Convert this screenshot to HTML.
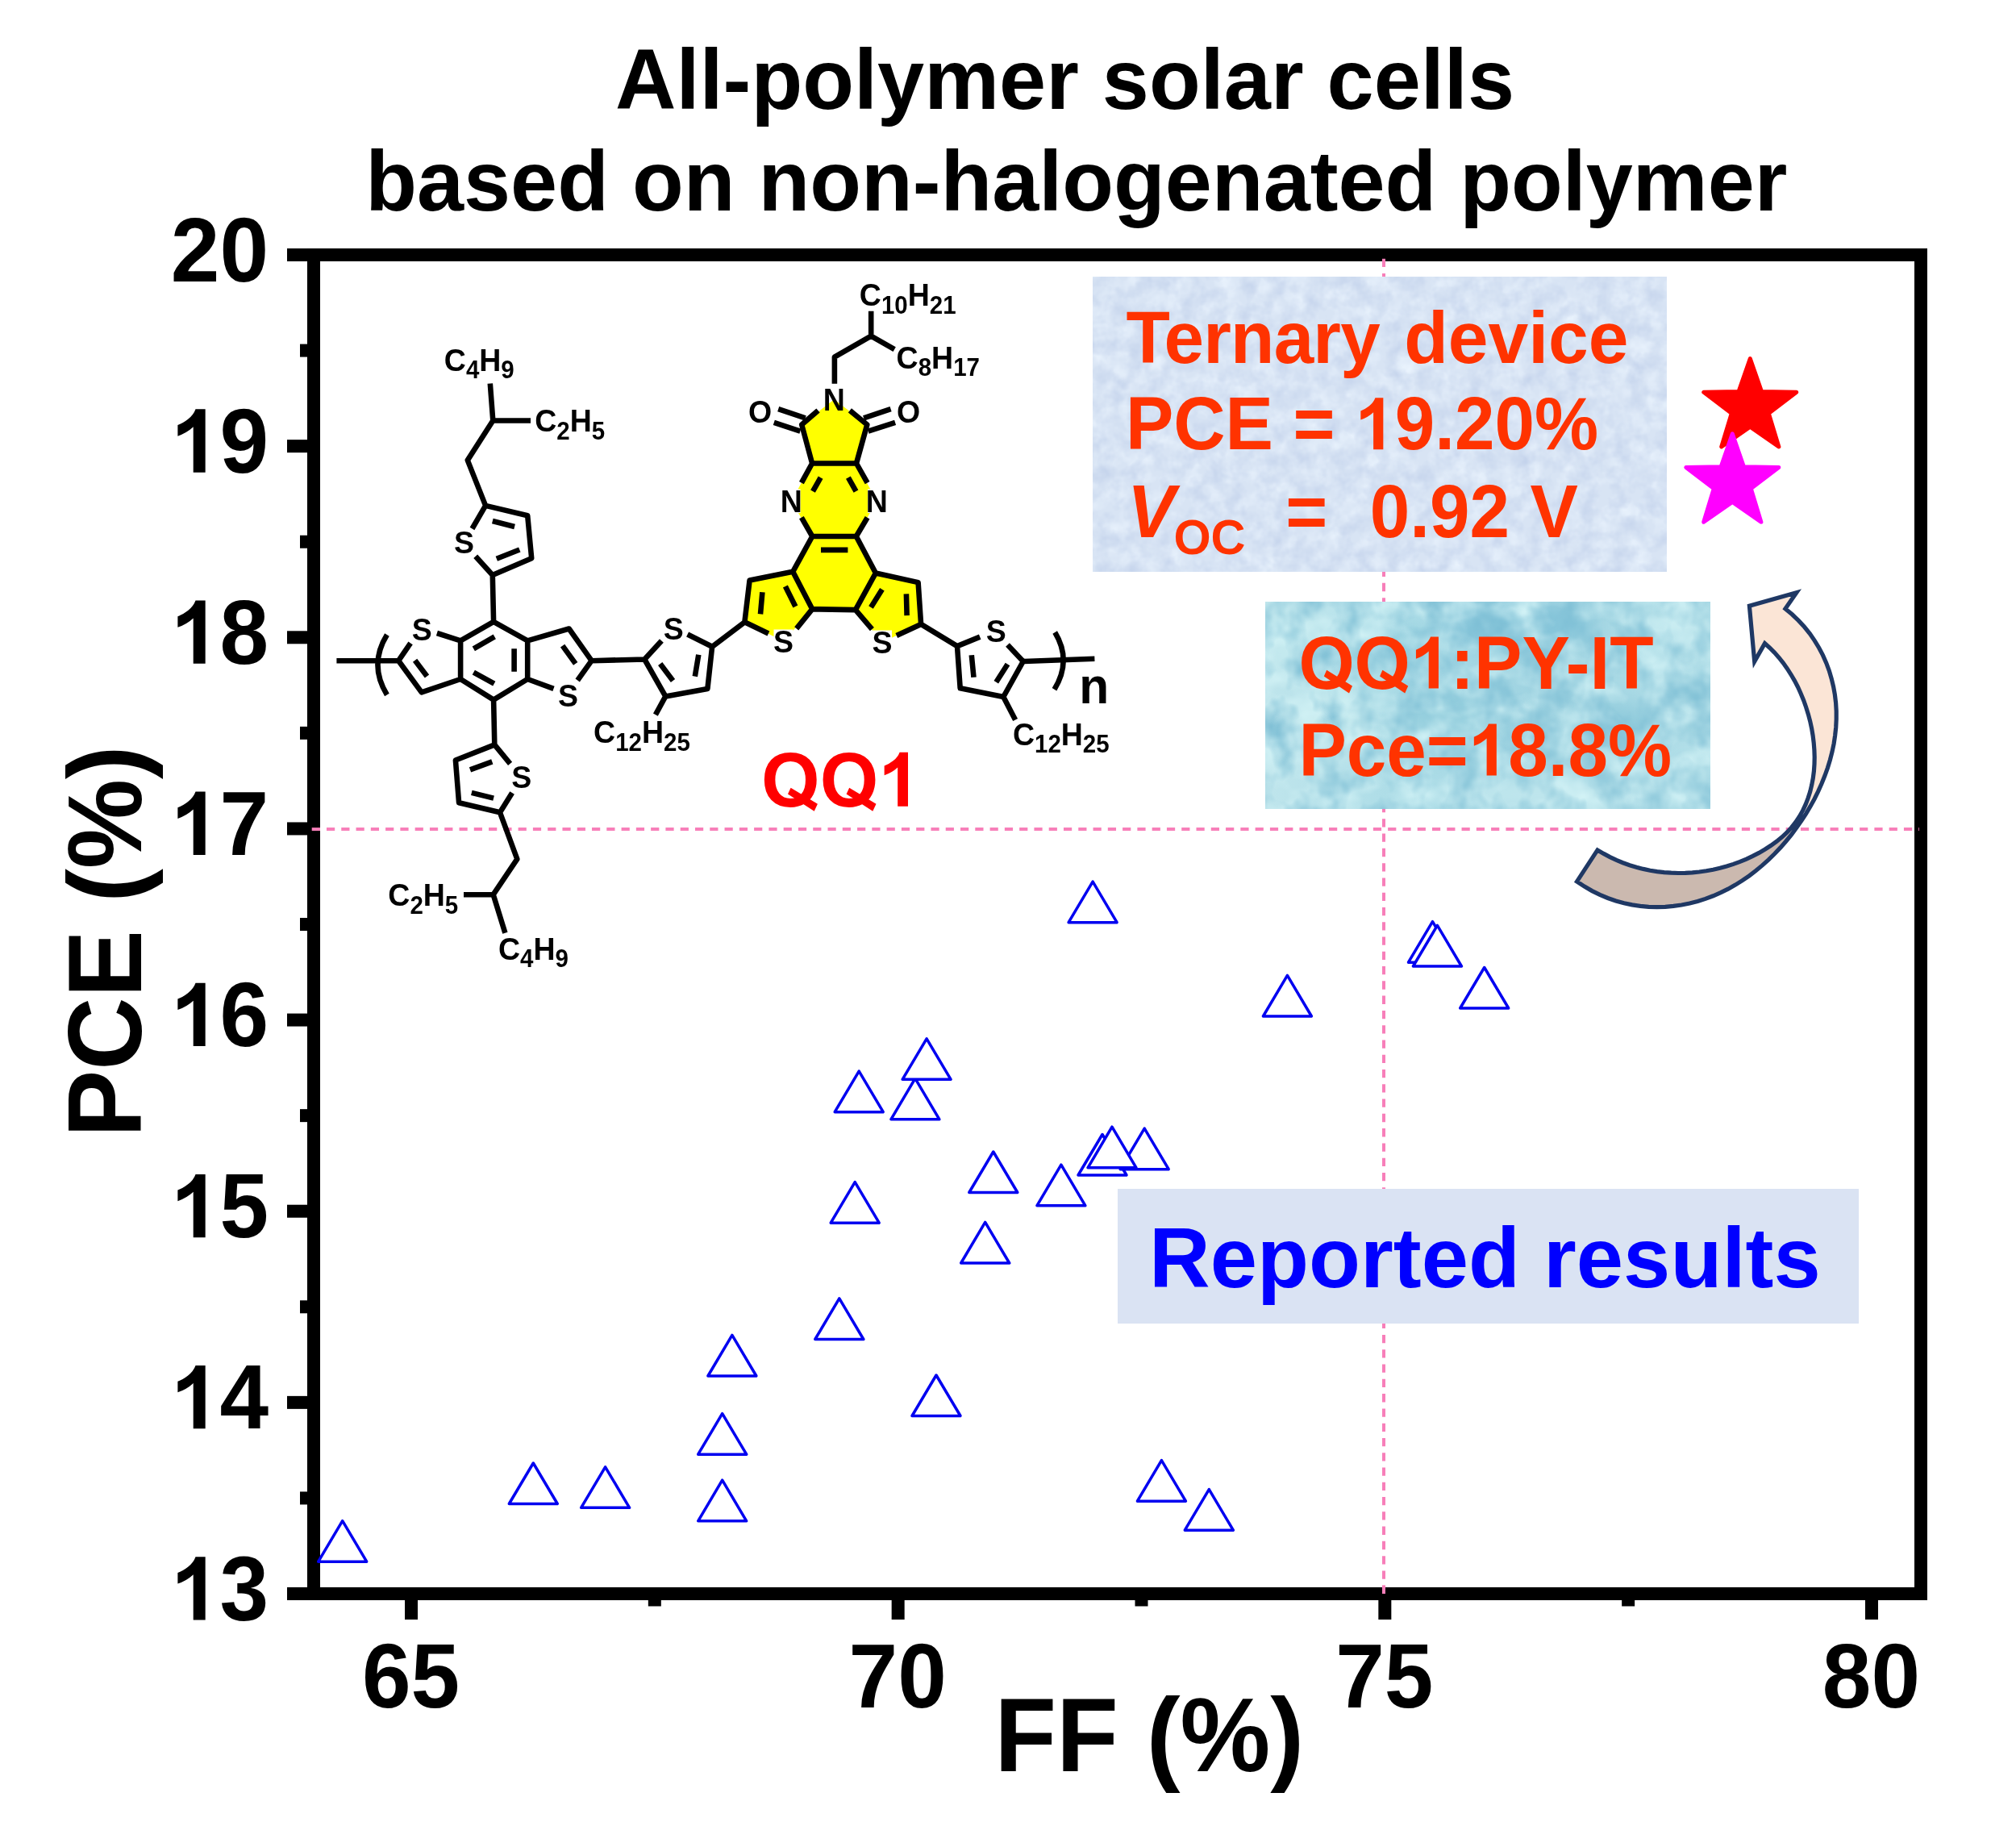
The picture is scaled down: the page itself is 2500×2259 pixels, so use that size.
<!DOCTYPE html>
<html><head><meta charset="utf-8"><title>All-polymer solar cells</title>
<style>
html,body{margin:0;padding:0;background:#fff;}
body{width:2500px;height:2259px;overflow:hidden;}
svg{display:block;font-family:"Liberation Sans", sans-serif;}
</style></head><body>
<svg width="2500" height="2259" viewBox="0 0 2500 2259" font-family='"Liberation Sans", sans-serif'>
<rect x="0" y="0" width="2500" height="2259" fill="#fff"/>
<line x1="386.7" y1="1028.1" x2="2380" y2="1028.1" stroke="#f77fb9" stroke-width="4" stroke-dasharray="10.2 8.08"/>
<line x1="1716" y1="1976" x2="1716" y2="316" stroke="#f77fb9" stroke-width="4" stroke-dasharray="10.3 7.977"/>
<defs>
<filter id="tex1" x="0" y="0" width="100%" height="100%" color-interpolation-filters="sRGB">
  <feTurbulence type="fractalNoise" baseFrequency="0.045" numOctaves="3" seed="4" result="n"/>
  <feColorMatrix in="n" type="matrix" values="0 0 0 0 0.93  0 0 0 0 0.965  0 0 0 0 1  1.5 0 0 0 -0.55" result="lt"/>
  <feTurbulence type="fractalNoise" baseFrequency="0.05" numOctaves="3" seed="19" result="n2"/>
  <feColorMatrix in="n2" type="matrix" values="0 0 0 0 0.76  0 0 0 0 0.82  0 0 0 0 0.92  0 1.5 0 0 -0.55" result="dk"/>
  <feMerge result="m"><feMergeNode in="SourceGraphic"/><feMergeNode in="lt"/><feMergeNode in="dk"/></feMerge>
  <feComposite in="m" in2="SourceGraphic" operator="in"/>
</filter>
<filter id="tex2" x="0" y="0" width="100%" height="100%" color-interpolation-filters="sRGB">
  <feTurbulence type="fractalNoise" baseFrequency="0.022 0.03" numOctaves="3" seed="7" result="n"/>
  <feColorMatrix in="n" type="matrix" values="0 0 0 0 0.84  0 0 0 0 0.96  0 0 0 0 0.97  1.8 0 0 0 -0.68" result="lt"/>
  <feTurbulence type="fractalNoise" baseFrequency="0.03 0.025" numOctaves="3" seed="23" result="n2"/>
  <feColorMatrix in="n2" type="matrix" values="0 0 0 0 0.48  0 0 0 0 0.74  0 0 0 0 0.83  0 1.8 0 0 -0.70" result="dk"/>
  <feMerge result="m"><feMergeNode in="SourceGraphic"/><feMergeNode in="lt"/><feMergeNode in="dk"/></feMerge>
  <feComposite in="m" in2="SourceGraphic" operator="in"/>
</filter>
<filter id="blur14" x="-20%" y="-20%" width="140%" height="140%"><feGaussianBlur stdDeviation="14"/></filter>
<linearGradient id="g2" x1="0" y1="0" x2="1" y2="0">
  <stop offset="0" stop-color="#bfe5ec"/><stop offset="0.35" stop-color="#aadbe6"/><stop offset="0.62" stop-color="#9fd3e1"/><stop offset="1" stop-color="#b4e0e9"/>
</linearGradient>
<clipPath id="cp2"><rect x="1569" y="746" width="552" height="257"/></clipPath>
</defs>
<rect x="1355" y="343" width="712" height="366" fill="#d8e4f4" filter="url(#tex1)"/>
<g clip-path="url(#cp2)"><g filter="url(#tex2)"><rect x="1569" y="746" width="552" height="257" fill="url(#g2)"/>
<g filter="url(#blur14)">
<ellipse cx="1880" cy="775" rx="95" ry="30" fill="#84c4d9"/>
<ellipse cx="1730" cy="800" rx="40" ry="22" fill="#8ecbdc"/>
<ellipse cx="1800" cy="880" rx="70" ry="30" fill="#93cddd"/>
<ellipse cx="2000" cy="900" rx="60" ry="28" fill="#8fcadb"/>
<ellipse cx="2095" cy="870" rx="22" ry="30" fill="#89c6d8"/>
<ellipse cx="1650" cy="900" rx="40" ry="40" fill="#c9ecf0"/>
<ellipse cx="1600" cy="790" rx="30" ry="40" fill="#c5eaef"/>
<ellipse cx="1900" cy="985" rx="120" ry="18" fill="#c4e9ef"/>
<ellipse cx="2085" cy="770" rx="35" ry="22" fill="#c2e8ee"/>
</g></g></g>
<rect x="1386" y="1474" width="919" height="167" fill="#dae3f3"/>
<text transform="translate(1396.60,450.00) scale(1.0,1.025)" font-size="89" font-weight="bold" font-style="normal" fill="#ff3300" text-anchor="start" letter-spacing="-0.8">Ternary</text>
<text transform="translate(1741.20,450.00) scale(1.0,1.01)" font-size="89.4" font-weight="bold" font-style="normal" fill="#ff3300" text-anchor="start" >device</text>
<text transform="translate(1395.90,557.30) scale(1.0,1.04)" font-size="89" font-weight="bold" font-style="normal" fill="#ff3300" text-anchor="start" >PCE = </text>
<path transform="translate(1680.30,557.30) scale(0.04346,-0.04346)" d="M806 0H525V1059Q371 915 162 846V1101Q272 1137 401 1237.5T578 1472H806Z" fill="#ff3300"/>
<text transform="translate(1729.80,557.30) scale(1.0,1.04)" font-size="89" font-weight="bold" font-style="normal" fill="#ff3300" text-anchor="start" >9.20%</text>
<text transform="translate(1398.00,665.50) scale(1.0,1.04)" font-size="89" font-weight="bold" font-style="italic" fill="#ff3300" text-anchor="start" >V</text>
<text transform="translate(1455.40,686.50) scale(1.0,1.04)" font-size="59.4" font-weight="bold" font-style="normal" fill="#ff3300" text-anchor="start" >OC</text>
<text transform="translate(1594.30,665.50) scale(1.0,1.04)" font-size="89" font-weight="bold" font-style="normal" fill="#ff3300" text-anchor="start" >=</text>
<text transform="translate(1698.70,665.50) scale(1.0,1.04)" font-size="89" font-weight="bold" font-style="normal" fill="#ff3300" text-anchor="start" >0.92</text>
<text transform="translate(1897.60,665.50) scale(1.0,1.04)" font-size="89" font-weight="bold" font-style="normal" fill="#ff3300" text-anchor="start" >V</text>
<text transform="translate(1610.40,853.50) scale(1.0,1.04)" font-size="89" font-weight="bold" font-style="normal" fill="#ff3300" text-anchor="start" >OO</text>
<path transform="translate(1748.90,853.50) scale(0.04346,-0.04346)" d="M806 0H525V1059Q371 915 162 846V1101Q272 1137 401 1237.5T578 1472H806Z" fill="#ff3300"/>
<text transform="translate(1798.40,853.50) scale(1.0,1.04)" font-size="89" font-weight="bold" font-style="normal" fill="#ff3300" text-anchor="start" >:PY-IT</text>
<polygon points="1645.2,830.8 1641.8,838.5 1673.0,859.4 1677.0,850.6" fill="#ff3300"/>
<polygon points="1714.4,830.8 1711.1,838.5 1742.2,859.4 1746.2,850.6" fill="#ff3300"/>
<text transform="translate(1610.50,961.50) scale(1.0,1.04)" font-size="89" font-weight="bold" font-style="normal" fill="#ff3300" text-anchor="start" >Pce=</text>
<path transform="translate(1820.80,961.50) scale(0.04346,-0.04346)" d="M806 0H525V1059Q371 915 162 846V1101Q272 1137 401 1237.5T578 1472H806Z" fill="#ff3300"/>
<text transform="translate(1870.30,961.50) scale(1.0,1.04)" font-size="89" font-weight="bold" font-style="normal" fill="#ff3300" text-anchor="start" >8.8%</text>
<text transform="translate(1425.00,1596.30) scale(1.0,1.015)" font-size="104.8" font-weight="bold" font-style="normal" fill="#0000ff" text-anchor="start" >Reported results</text>
<text transform="translate(763.10,135.00) scale(1.0,1.015)" font-size="104.5" font-weight="bold" font-style="normal" fill="#000" text-anchor="start" >All-polymer solar cells</text>
<text transform="translate(453.20,260.60) scale(1.0,1.015)" font-size="104.4" font-weight="bold" font-style="normal" fill="#000" text-anchor="start" >based on non-halogenated polymer</text>
<rect x="389" y="316" width="1993" height="1660" fill="none" stroke="#000" stroke-width="16"/>
<rect x="386.7" y="1026.1" width="10.3" height="4" fill="#f77fb9"/>
<rect x="1714" y="1965.5" width="4" height="10.5" fill="#f77fb9"/>
<rect x="1714" y="320.8" width="4" height="3.4" fill="#f77fb9"/>
<rect x="2379.2" y="1026.1" width="0.8" height="4" fill="#f77fb9"/>
<rect x="356" y="1968.00" width="26" height="16" fill="#000"/>
<path transform="translate(211.76,2008.50) scale(0.05322,-0.05322)" d="M806 0H525V1059Q371 915 162 846V1101Q272 1137 401 1237.5T578 1472H806Z" fill="#000"/>
<text transform="translate(333.00,2008.50) scale(1.0,1.03)" font-size="109" font-weight="bold" font-style="normal" fill="#000" text-anchor="end" >3</text>
<rect x="356" y="1730.86" width="26" height="16" fill="#000"/>
<path transform="translate(211.76,1771.36) scale(0.05322,-0.05322)" d="M806 0H525V1059Q371 915 162 846V1101Q272 1137 401 1237.5T578 1472H806Z" fill="#000"/>
<text transform="translate(333.00,1771.36) scale(1.0,1.03)" font-size="109" font-weight="bold" font-style="normal" fill="#000" text-anchor="end" >4</text>
<rect x="356" y="1493.72" width="26" height="16" fill="#000"/>
<path transform="translate(211.76,1534.22) scale(0.05322,-0.05322)" d="M806 0H525V1059Q371 915 162 846V1101Q272 1137 401 1237.5T578 1472H806Z" fill="#000"/>
<text transform="translate(333.00,1534.22) scale(1.0,1.03)" font-size="109" font-weight="bold" font-style="normal" fill="#000" text-anchor="end" >5</text>
<rect x="356" y="1256.58" width="26" height="16" fill="#000"/>
<path transform="translate(211.76,1297.08) scale(0.05322,-0.05322)" d="M806 0H525V1059Q371 915 162 846V1101Q272 1137 401 1237.5T578 1472H806Z" fill="#000"/>
<text transform="translate(333.00,1297.08) scale(1.0,1.03)" font-size="109" font-weight="bold" font-style="normal" fill="#000" text-anchor="end" >6</text>
<rect x="356" y="1019.44" width="26" height="16" fill="#000"/>
<path transform="translate(211.76,1059.94) scale(0.05322,-0.05322)" d="M806 0H525V1059Q371 915 162 846V1101Q272 1137 401 1237.5T578 1472H806Z" fill="#000"/>
<text transform="translate(333.00,1059.94) scale(1.0,1.03)" font-size="109" font-weight="bold" font-style="normal" fill="#000" text-anchor="end" >7</text>
<rect x="356" y="782.30" width="26" height="16" fill="#000"/>
<path transform="translate(211.76,822.80) scale(0.05322,-0.05322)" d="M806 0H525V1059Q371 915 162 846V1101Q272 1137 401 1237.5T578 1472H806Z" fill="#000"/>
<text transform="translate(333.00,822.80) scale(1.0,1.03)" font-size="109" font-weight="bold" font-style="normal" fill="#000" text-anchor="end" >8</text>
<rect x="356" y="545.16" width="26" height="16" fill="#000"/>
<path transform="translate(211.76,585.66) scale(0.05322,-0.05322)" d="M806 0H525V1059Q371 915 162 846V1101Q272 1137 401 1237.5T578 1472H806Z" fill="#000"/>
<text transform="translate(333.00,585.66) scale(1.0,1.03)" font-size="109" font-weight="bold" font-style="normal" fill="#000" text-anchor="end" >9</text>
<rect x="356" y="308.02" width="26" height="16" fill="#000"/>
<text transform="translate(333.00,348.52) scale(1.0,1.03)" font-size="109" font-weight="bold" font-style="normal" fill="#000" text-anchor="end" >20</text>
<rect x="372" y="1849.43" width="10" height="16" fill="#000"/>
<rect x="372" y="1612.29" width="10" height="16" fill="#000"/>
<rect x="372" y="1375.15" width="10" height="16" fill="#000"/>
<rect x="372" y="1138.01" width="10" height="16" fill="#000"/>
<rect x="372" y="900.87" width="10" height="16" fill="#000"/>
<rect x="372" y="663.73" width="10" height="16" fill="#000"/>
<rect x="372" y="426.59" width="10" height="16" fill="#000"/>
<rect x="502.00" y="1983" width="16" height="25" fill="#000"/>
<text transform="translate(509.50,2117.00) scale(1.0,1.03)" font-size="109" font-weight="bold" font-style="normal" fill="#000" text-anchor="middle" >65</text>
<rect x="1105.66" y="1983" width="16" height="25" fill="#000"/>
<text transform="translate(1113.16,2117.00) scale(1.0,1.03)" font-size="109" font-weight="bold" font-style="normal" fill="#000" text-anchor="middle" >70</text>
<rect x="1709.33" y="1983" width="16" height="25" fill="#000"/>
<text transform="translate(1716.83,2117.00) scale(1.0,1.03)" font-size="109" font-weight="bold" font-style="normal" fill="#000" text-anchor="middle" >75</text>
<rect x="2312.99" y="1983" width="16" height="25" fill="#000"/>
<text transform="translate(2320.49,2117.00) scale(1.0,1.03)" font-size="109" font-weight="bold" font-style="normal" fill="#000" text-anchor="middle" >80</text>
<rect x="803.83" y="1983" width="16" height="8.5" fill="#000"/>
<rect x="1407.50" y="1983" width="16" height="8.5" fill="#000"/>
<rect x="2011.16" y="1983" width="16" height="8.5" fill="#000"/>
<text transform="translate(1233.20,2195.80) scale(1.0,1.04)" font-size="125.7" font-weight="bold" font-style="normal" fill="#000" text-anchor="start" >FF (%)</text>
<text transform="translate(175,1402.4) rotate(-90) scale(1,1.04)" font-size="124.8" font-weight="bold" fill="#000" dx="-7.5">PCE (%)</text>
<path d="M424.7,1885.7 L454.7,1936.2 L394.7,1936.2 Z" fill="#fff" stroke="#0000f0" stroke-width="3.5" stroke-linejoin="round"/>
<path d="M661.3,1814.0 L691.3,1864.5 L631.3,1864.5 Z" fill="#fff" stroke="#0000f0" stroke-width="3.5" stroke-linejoin="round"/>
<path d="M750.6,1818.8 L780.6,1869.3 L720.6,1869.3 Z" fill="#fff" stroke="#0000f0" stroke-width="3.5" stroke-linejoin="round"/>
<path d="M895.7,1835.2 L925.7,1885.8 L865.7,1885.8 Z" fill="#fff" stroke="#0000f0" stroke-width="3.5" stroke-linejoin="round"/>
<path d="M895.7,1752.7 L925.7,1803.2 L865.7,1803.2 Z" fill="#fff" stroke="#0000f0" stroke-width="3.5" stroke-linejoin="round"/>
<path d="M907.9,1655.4 L937.9,1706.0 L877.9,1706.0 Z" fill="#fff" stroke="#0000f0" stroke-width="3.5" stroke-linejoin="round"/>
<path d="M1040.8,1609.9 L1070.8,1660.5 L1010.8,1660.5 Z" fill="#fff" stroke="#0000f0" stroke-width="3.5" stroke-linejoin="round"/>
<path d="M1161.0,1705.0 L1191.0,1755.5 L1131.0,1755.5 Z" fill="#fff" stroke="#0000f0" stroke-width="3.5" stroke-linejoin="round"/>
<path d="M1060.2,1465.6 L1090.2,1516.2 L1030.2,1516.2 Z" fill="#fff" stroke="#0000f0" stroke-width="3.5" stroke-linejoin="round"/>
<path d="M1065.2,1328.1 L1095.2,1378.7 L1035.2,1378.7 Z" fill="#fff" stroke="#0000f0" stroke-width="3.5" stroke-linejoin="round"/>
<path d="M1134.9,1337.2 L1164.9,1387.8 L1104.9,1387.8 Z" fill="#fff" stroke="#0000f0" stroke-width="3.5" stroke-linejoin="round"/>
<path d="M1149.1,1287.8 L1179.1,1338.3 L1119.1,1338.3 Z" fill="#fff" stroke="#0000f0" stroke-width="3.5" stroke-linejoin="round"/>
<path d="M1221.7,1515.4 L1251.7,1566.0 L1191.7,1566.0 Z" fill="#fff" stroke="#0000f0" stroke-width="3.5" stroke-linejoin="round"/>
<path d="M1231.8,1428.0 L1261.8,1478.5 L1201.8,1478.5 Z" fill="#fff" stroke="#0000f0" stroke-width="3.5" stroke-linejoin="round"/>
<path d="M1315.9,1444.2 L1345.9,1494.8 L1285.9,1494.8 Z" fill="#fff" stroke="#0000f0" stroke-width="3.5" stroke-linejoin="round"/>
<path d="M1367.0,1406.5 L1397.0,1457.0 L1337.0,1457.0 Z" fill="#fff" stroke="#0000f0" stroke-width="3.5" stroke-linejoin="round"/>
<path d="M1419.2,1399.1 L1449.2,1449.7 L1389.2,1449.7 Z" fill="#fff" stroke="#0000f0" stroke-width="3.5" stroke-linejoin="round"/>
<path d="M1379.0,1397.2 L1409.0,1447.8 L1349.0,1447.8 Z" fill="#fff" stroke="#0000f0" stroke-width="3.5" stroke-linejoin="round"/>
<path d="M1355.1,1093.1 L1385.1,1143.7 L1325.1,1143.7 Z" fill="#fff" stroke="#0000f0" stroke-width="3.5" stroke-linejoin="round"/>
<path d="M1440.4,1810.6 L1470.4,1861.2 L1410.4,1861.2 Z" fill="#fff" stroke="#0000f0" stroke-width="3.5" stroke-linejoin="round"/>
<path d="M1499.3,1846.6 L1529.3,1897.2 L1469.3,1897.2 Z" fill="#fff" stroke="#0000f0" stroke-width="3.5" stroke-linejoin="round"/>
<path d="M1596.4,1209.4 L1626.4,1260.0 L1566.4,1260.0 Z" fill="#fff" stroke="#0000f0" stroke-width="3.5" stroke-linejoin="round"/>
<path d="M1776.5,1142.7 L1806.5,1193.2 L1746.5,1193.2 Z" fill="#fff" stroke="#0000f0" stroke-width="3.5" stroke-linejoin="round"/>
<path d="M1782.4,1147.4 L1812.4,1198.0 L1752.4,1198.0 Z" fill="#fff" stroke="#0000f0" stroke-width="3.5" stroke-linejoin="round"/>
<path d="M1840.7,1199.5 L1870.7,1250.0 L1810.7,1250.0 Z" fill="#fff" stroke="#0000f0" stroke-width="3.5" stroke-linejoin="round"/>
<polygon points="2170.3,444.5 2184.5,485.4 2227.8,486.3 2193.3,512.5 2205.9,553.9 2170.3,529.2 2134.7,553.9 2147.3,512.5 2112.8,486.3 2156.1,485.4" fill="#ff0000" stroke="#ff0000" stroke-width="5" stroke-linejoin="round"/>
<polygon points="2148.3,537.8 2162.5,578.7 2205.8,579.6 2171.3,605.8 2183.9,647.2 2148.3,622.5 2112.7,647.2 2125.3,605.8 2090.8,579.6 2134.1,578.7" fill="#ff00ff" stroke="#ff00ff" stroke-width="5" stroke-linejoin="round"/>
<path d="M2239.6,1008.8 L2233.9,1017.6 L2227.8,1026.3 L2221.5,1034.8 L2214.8,1043.0 L2207.9,1050.9 L2200.7,1058.5 L2193.2,1065.9 L2185.4,1072.9 L2177.4,1079.5 L2169.2,1085.8 L2160.7,1091.7 L2152.0,1097.1 L2143.0,1102.2 L2133.9,1106.7 L2124.5,1110.8 L2114.9,1114.4 L2105.2,1117.5 L2095.3,1120.0 L2085.3,1122.0 L2075.2,1123.4 L2065.0,1124.3 L2054.8,1124.6 L2044.5,1124.3 L2034.2,1123.4 L2024.0,1121.9 L2013.9,1119.7 L2003.8,1116.9 L1993.8,1113.5 L1984.0,1109.4 L1974.3,1104.6 L1964.8,1099.1 L1955.5,1092.9 L1981.0,1053.9 L1988.7,1058.4 L1996.5,1062.6 L2004.5,1066.4 L2012.6,1069.7 L2020.9,1072.7 L2029.3,1075.3 L2037.8,1077.4 L2046.3,1079.2 L2055.0,1080.6 L2063.7,1081.6 L2072.4,1082.2 L2081.1,1082.5 L2089.8,1082.4 L2098.6,1081.9 L2107.2,1081.0 L2115.9,1079.8 L2124.4,1078.2 L2132.9,1076.3 L2141.2,1074.0 L2149.5,1071.4 L2157.7,1068.4 L2165.7,1065.1 L2173.5,1061.4 L2181.3,1057.4 L2188.8,1053.0 L2196.1,1048.3 L2203.2,1043.2 L2209.8,1037.8 L2216.1,1032.0 L2221.8,1025.7 L2226.9,1019.2 L2231.5,1012.2 Z" fill="#cbb9af"/>
<path d="M2213.9,754.7 L2222.4,761.8 L2230.3,769.4 L2237.6,777.3 L2244.3,785.6 L2250.3,794.3 L2255.7,803.2 L2260.5,812.4 L2264.7,821.9 L2268.3,831.5 L2271.2,841.4 L2273.6,851.3 L2275.4,861.4 L2276.6,871.5 L2277.2,881.6 L2277.2,891.8 L2276.7,902.0 L2275.6,912.1 L2274.1,922.2 L2272.0,932.2 L2269.4,942.2 L2266.4,952.1 L2262.9,961.8 L2259.0,971.5 L2254.7,981.1 L2250.1,990.5 L2245.0,999.7 L2239.6,1008.8 L2235.6,1004.9 L2239.1,997.4 L2242.1,989.6 L2244.7,981.5 L2246.7,973.2 L2248.3,964.8 L2249.4,956.2 L2250.0,947.5 L2250.2,938.7 L2249.9,929.8 L2249.2,920.9 L2248.1,912.0 L2246.6,903.1 L2244.7,894.3 L2242.4,885.6 L2239.7,877.0 L2236.7,868.5 L2233.3,860.2 L2229.6,852.0 L2225.5,844.1 L2221.1,836.5 L2216.4,829.2 L2211.4,822.1 L2206.1,815.4 L2200.5,809.1 L2194.6,803.2 L2188.5,797.7 L2175.7,820.3 L2169.4,751.2 L2227.8,734.7 Z" fill="#fbe5d6"/>
<path d="M2213.9,754.7 L2222.4,761.8 L2230.3,769.4 L2237.6,777.3 L2244.3,785.6 L2250.3,794.3 L2255.7,803.2 L2260.5,812.4 L2264.7,821.9 L2268.3,831.5 L2271.2,841.4 L2273.6,851.3 L2275.4,861.4 L2276.6,871.5 L2277.2,881.6 L2277.2,891.8 L2276.7,902.0 L2275.6,912.1 L2274.1,922.2 L2272.0,932.2 L2269.4,942.2 L2266.4,952.1 L2262.9,961.8 L2259.0,971.5 L2254.7,981.1 L2250.1,990.5 L2245.0,999.7 L2239.6,1008.8 L2233.9,1017.6 L2227.8,1026.3 L2221.5,1034.8 L2214.8,1043.0 L2207.9,1050.9 L2200.7,1058.5 L2193.2,1065.9 L2185.4,1072.9 L2177.4,1079.5 L2169.2,1085.8 L2160.7,1091.7 L2152.0,1097.1 L2143.0,1102.2 L2133.9,1106.7 L2124.5,1110.8 L2114.9,1114.4 L2105.2,1117.5 L2095.3,1120.0 L2085.3,1122.0 L2075.2,1123.4 L2065.0,1124.3 L2054.8,1124.6 L2044.5,1124.3 L2034.2,1123.4 L2024.0,1121.9 L2013.9,1119.7 L2003.8,1116.9 L1993.8,1113.5 L1984.0,1109.4 L1974.3,1104.6 L1964.8,1099.1 L1955.5,1092.9 L1981.0,1053.9 L1988.7,1058.4 L1996.5,1062.6 L2004.5,1066.4 L2012.6,1069.7 L2020.9,1072.7 L2029.3,1075.3 L2037.8,1077.4 L2046.3,1079.2 L2055.0,1080.6 L2063.7,1081.6 L2072.4,1082.2 L2081.1,1082.5 L2089.8,1082.4 L2098.6,1081.9 L2107.2,1081.0 L2115.9,1079.8 L2124.4,1078.2 L2132.9,1076.3 L2141.2,1074.0 L2149.5,1071.4 L2157.7,1068.4 L2165.7,1065.1 L2173.5,1061.4 L2181.3,1057.4 L2188.8,1053.0 L2196.1,1048.3 L2203.2,1043.2 L2209.8,1037.8 L2216.1,1032.0 L2221.8,1025.7 L2226.9,1019.2 L2231.5,1012.2 L2235.6,1004.9 L2239.1,997.4 L2242.1,989.6 L2244.7,981.5 L2246.7,973.2 L2248.3,964.8 L2249.4,956.2 L2250.0,947.5 L2250.2,938.7 L2249.9,929.8 L2249.2,920.9 L2248.1,912.0 L2246.6,903.1 L2244.7,894.3 L2242.4,885.6 L2239.7,877.0 L2236.7,868.5 L2233.3,860.2 L2229.6,852.0 L2225.5,844.1 L2221.1,836.5 L2216.4,829.2 L2211.4,822.1 L2206.1,815.4 L2200.5,809.1 L2194.6,803.2 L2188.5,797.7 L2175.7,820.3 L2169.4,751.2 L2227.8,734.7 Z" fill="none" stroke="#1f3864" stroke-width="5.2" stroke-linejoin="miter" stroke-miterlimit="6"/>
<polygon points="1034.4,495.2 1075.3,526.5 1062.0,574.5 1007.1,574.5 994.2,526.5" fill="#ffff00"/>
<polygon points="1007.1,574.5 1062.0,574.5 1087.4,621.5 1061.8,665.0 1007.3,665.0 981.3,621.5" fill="#ffff00"/>
<polygon points="1007.3,665.0 1061.8,665.0 1085.9,710.5 1060.9,756.1 1007.3,755.2 983.2,708.8" fill="#ffff00"/>
<polygon points="983.2,708.8 929.6,719.5 923.4,771.3 971.6,795.0 1007.3,755.2" fill="#ffff00"/>
<polygon points="1085.9,710.5 1138.6,722.1 1142.1,773.9 1093.9,796.3 1060.9,756.1" fill="#ffff00"/>
<rect x="968" y="606.5" width="24.6" height="29.5" fill="#fff"/>
<rect x="1076" y="606.5" width="24.6" height="29.5" fill="#fff"/>
<rect x="959.5" y="780.5" width="24" height="30" fill="#fff"/>
<rect x="1082" y="781.5" width="24" height="30" fill="#fff"/>
<path d="M607.8,475.6 L611.3,521.5 L579.8,570.6 L602.1,626.9 L654.2,639.3 L659.2,692.2 L610.8,713.0 L612.1,770.8 M611.3,521.5 L658.0,521.5 M602.1,626.9 L585.5,655.5 M610.8,713.0 L589.7,689.7 M612.1,770.8 L654.2,794.4 L654.2,842.0 L612.1,867.6 L571.1,842.0 L571.1,794.4 Z M654.2,794.4 L705.6,779.5 L733.6,819.2 L716.2,843.5 M654.2,842.0 L686.5,853.9 M571.1,794.4 L541.9,785.0 M509.1,797.4 L494.2,819.2 L522.8,858.4 L571.1,842.0 M417.4,819.2 L494.2,819.2 M733.6,819.2 L799.3,817.5 M820.4,794.4 L799.3,817.5 L825.3,863.4 L877.4,853.9 L883.1,801.8 L852.6,786.5 M825.3,863.4 L812.9,886.2 M883.1,801.8 L923.4,771.3 M952.9,785.5 L923.4,771.3 L929.6,719.5 L983.2,708.8 M1007.3,755.2 L987.7,779.3 M1007.3,665.0 L1061.8,665.0 L1085.9,710.5 L1060.9,756.1 L1007.3,755.2 L983.2,708.8 Z M1085.9,710.5 L1138.6,722.1 L1142.1,773.9 L1111.8,787.9 M1060.9,756.1 L1081.4,780.2 M993.9,598.6 L1007.1,574.5 L1062.0,574.5 L1075.6,598.6 M993.9,641.7 L1007.3,665.0 M1075.6,641.7 L1061.8,665.0 M1007.1,574.5 L994.2,526.5 L1014.5,508.9 M1062.0,574.5 L1075.3,526.5 L1053.9,508.9 M1034.9,475.8 L1034.9,442.6 L1080.2,416.6 L1080.2,385.8 M1080.2,416.6 L1109.2,433.2 M1142.1,773.9 L1187.0,801.1 M1215.2,789.6 L1187.0,801.1 L1190.7,853.2 L1244.3,864.0 L1268.8,820.0 L1249.5,799.6 M1268.8,820.0 L1357.4,816.7 M1244.3,864.0 L1259.1,892.6 M612.1,867.6 L613.3,923.4 L564.9,942.5 L569.1,995.3 L620.0,1007.3 L635.1,982.9 M613.3,923.4 L632.6,946.9 M620.0,1007.3 L641.3,1065.2 L611.7,1109.2 L626.4,1156.8 M611.7,1109.2 L575.0,1109.2 " fill="none" stroke="#000" stroke-width="6.6" stroke-linejoin="round" stroke-linecap="butt"/>
<path d="M610.8,646.0 L638.1,653.0 M644.3,681.5 L615.8,692.7 M587.3,804.3 L613.3,789.4 M637.6,804.3 L637.6,832.8 M587.3,833.6 L612.8,847.7 M697.6,800.6 L713.7,822.9 M514.6,818.7 L529.5,838.6 M818.7,822.9 L834.5,844.0 M866.3,811.8 L861.8,838.6 M973.9,727.1 L986.4,752.1 M945.4,734.3 L943.0,761.4 M1018.0,681.9 L1051.4,681.9 M1093.9,730.7 L1080.0,752.9 M1123.9,736.4 L1124.6,763.2 M1017.6,592.1 L1008.0,609.2 M1051.9,592.1 L1061.5,609.2 M965.2,507.1 L998.7,518.3 M959.8,523.8 L992.4,534.6 M1104.6,507.1 L1071.1,518.3 M1110.1,523.8 L1076.6,534.6 M1204.8,812.3 L1207.5,839.8 M1249.5,823.4 L1235.3,845.7 M610.3,944.4 L583.0,954.4 M584.8,982.9 L612.1,989.6 " fill="none" stroke="#000" stroke-width="6.6" stroke-linecap="butt"/>
<path d="M479.9,787 Q457,824.2 479.9,861.4" fill="none" stroke="#000" stroke-width="6.6"/>
<path d="M1308.2,784 Q1329.5,819 1307.5,854.7" fill="none" stroke="#000" stroke-width="6.6"/>
<g opacity="0.999">
<text transform="translate(550.80,459.50) scale(1.0,1.04)" font-size="37.5" font-weight="bold" font-style="normal" fill="#000" text-anchor="start" ><tspan font-size="37.5" dy="0">C</tspan><tspan font-size="29.5" dy="9.2">4</tspan><tspan font-size="37.5" dy="-9.2">H</tspan><tspan font-size="29.5" dy="9.2">9</tspan></text>
<text transform="translate(663.20,535.20) scale(1.0,1.04)" font-size="37.5" font-weight="bold" font-style="normal" fill="#000" text-anchor="start" ><tspan font-size="37.5" dy="0">C</tspan><tspan font-size="29.5" dy="9.2">2</tspan><tspan font-size="37.5" dy="-9.2">H</tspan><tspan font-size="29.5" dy="9.2">5</tspan></text>
<text transform="translate(736.10,921.40) scale(1.0,1.04)" font-size="37.5" font-weight="bold" font-style="normal" fill="#000" text-anchor="start" ><tspan font-size="37.5" dy="0">C</tspan><tspan font-size="29.5" dy="9.2">12</tspan><tspan font-size="37.5" dy="-9.2">H</tspan><tspan font-size="29.5" dy="9.2">25</tspan></text>
<text transform="translate(1065.80,379.30) scale(1.0,1.04)" font-size="37.5" font-weight="bold" font-style="normal" fill="#000" text-anchor="start" ><tspan font-size="37.5" dy="0">C</tspan><tspan font-size="29.5" dy="9.2">10</tspan><tspan font-size="37.5" dy="-9.2">H</tspan><tspan font-size="29.5" dy="9.2">21</tspan></text>
<text transform="translate(1111.60,456.80) scale(1.0,1.04)" font-size="37.5" font-weight="bold" font-style="normal" fill="#000" text-anchor="start" ><tspan font-size="37.5" dy="0">C</tspan><tspan font-size="29.5" dy="9.2">8</tspan><tspan font-size="37.5" dy="-9.2">H</tspan><tspan font-size="29.5" dy="9.2">17</tspan></text>
<text transform="translate(1255.90,923.60) scale(1.0,1.04)" font-size="37.5" font-weight="bold" font-style="normal" fill="#000" text-anchor="start" ><tspan font-size="37.5" dy="0">C</tspan><tspan font-size="29.5" dy="9.2">12</tspan><tspan font-size="37.5" dy="-9.2">H</tspan><tspan font-size="29.5" dy="9.2">25</tspan></text>
<text transform="translate(481.30,1123.00) scale(1.0,1.04)" font-size="37.5" font-weight="bold" font-style="normal" fill="#000" text-anchor="start" ><tspan font-size="37.5" dy="0">C</tspan><tspan font-size="29.5" dy="9.2">2</tspan><tspan font-size="37.5" dy="-9.2">H</tspan><tspan font-size="29.5" dy="9.2">5</tspan></text>
<text transform="translate(617.90,1189.60) scale(1.0,1.04)" font-size="37.5" font-weight="bold" font-style="normal" fill="#000" text-anchor="start" ><tspan font-size="37.5" dy="0">C</tspan><tspan font-size="29.5" dy="9.2">4</tspan><tspan font-size="37.5" dy="-9.2">H</tspan><tspan font-size="29.5" dy="9.2">9</tspan></text>
<text transform="translate(575.60,686.40) scale(1.0,1.04)" font-size="37.5" font-weight="bold" font-style="normal" fill="#000" text-anchor="middle" >S</text>
<text transform="translate(704.60,875.50) scale(1.0,1.04)" font-size="37.5" font-weight="bold" font-style="normal" fill="#000" text-anchor="middle" >S</text>
<text transform="translate(523.30,794.40) scale(1.0,1.04)" font-size="37.5" font-weight="bold" font-style="normal" fill="#000" text-anchor="middle" >S</text>
<text transform="translate(835.30,793.10) scale(1.0,1.04)" font-size="37.5" font-weight="bold" font-style="normal" fill="#000" text-anchor="middle" >S</text>
<text transform="translate(646.80,977.20) scale(1.0,1.04)" font-size="37.5" font-weight="bold" font-style="normal" fill="#000" text-anchor="middle" >S</text>
<text transform="translate(971.60,808.60) scale(1.0,1.04)" font-size="37.5" font-weight="bold" font-style="normal" fill="#000" text-anchor="middle" >S</text>
<text transform="translate(1093.90,809.90) scale(1.0,1.04)" font-size="37.5" font-weight="bold" font-style="normal" fill="#000" text-anchor="middle" >S</text>
<text transform="translate(1235.30,795.80) scale(1.0,1.04)" font-size="37.5" font-weight="bold" font-style="normal" fill="#000" text-anchor="middle" >S</text>
<text transform="translate(981.30,635.10) scale(1.0,1.04)" font-size="37.5" font-weight="bold" font-style="normal" fill="#000" text-anchor="middle" >N</text>
<text transform="translate(1087.40,635.10) scale(1.0,1.04)" font-size="37.5" font-weight="bold" font-style="normal" fill="#000" text-anchor="middle" >N</text>
<text transform="translate(1034.40,508.80) scale(1.0,1.04)" font-size="37.5" font-weight="bold" font-style="normal" fill="#000" text-anchor="middle" >N</text>
<text transform="translate(942.60,523.80) scale(1.0,1.04)" font-size="37.5" font-weight="bold" font-style="normal" fill="#000" text-anchor="middle" >O</text>
<text transform="translate(1126.70,523.80) scale(1.0,1.04)" font-size="37.5" font-weight="bold" font-style="normal" fill="#000" text-anchor="middle" >O</text>
<text transform="translate(1338.20,871.80) scale(1.0,1.04)" font-size="60.5" font-weight="bold" font-style="normal" fill="#000" text-anchor="start" >n</text>
</g>
<text transform="translate(944.10,999.70) scale(1.0,1.04)" font-size="93.3" font-weight="bold" font-style="normal" fill="#ff0000" text-anchor="start" >OO</text>
<path transform="translate(1089.27,999.70) scale(0.04556,-0.04556)" d="M806 0H525V1059Q371 915 162 846V1101Q272 1137 401 1237.5T578 1472H806Z" fill="#ff0000"/>
<polygon points="980.6,976.8 977.0,984.6 1009.7,1005.7 1013.9,996.8" fill="#ff0000"/>
<polygon points="1053.2,976.8 1049.6,984.6 1082.3,1005.7 1086.5,996.8" fill="#ff0000"/>
</svg>
</body></html>
